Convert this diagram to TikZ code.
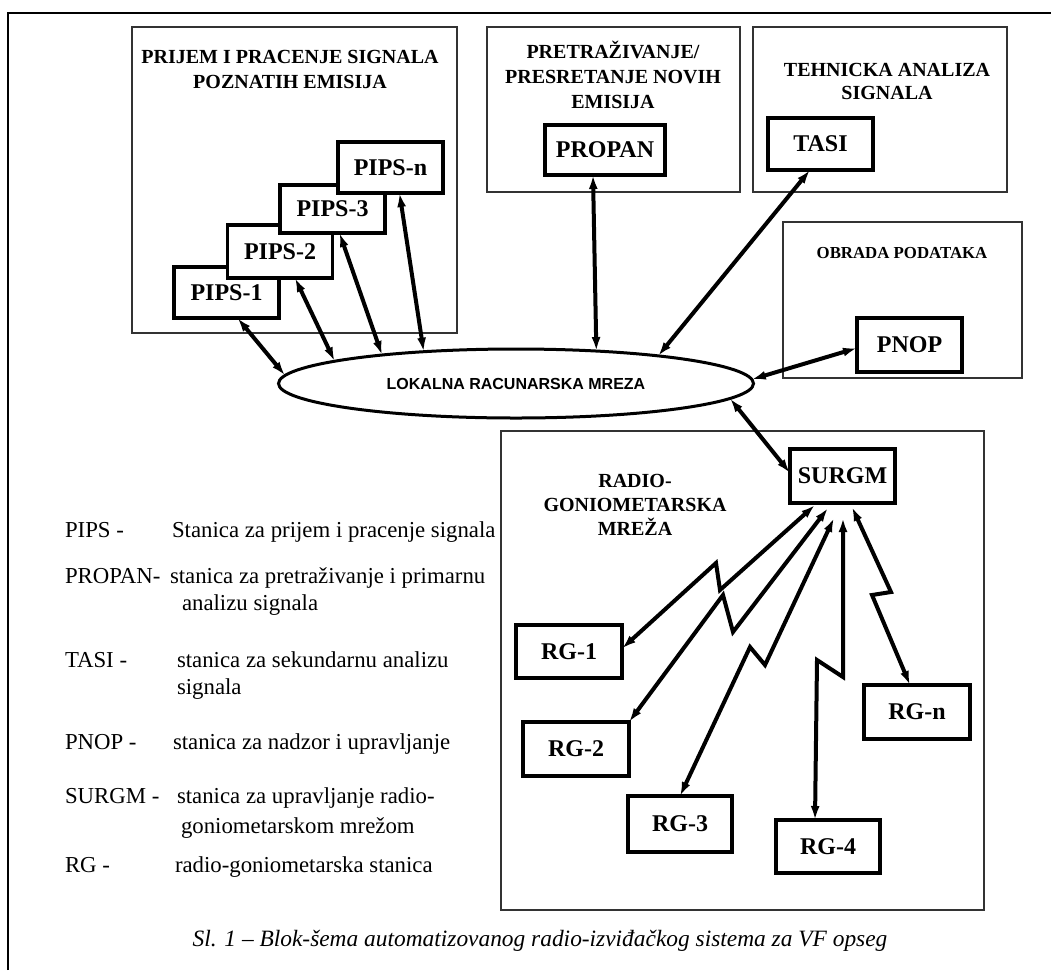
\documentclass[tikz,border=0pt]{standalone}
\usepackage{fontspec}
\setmainfont{Liberation Serif}
\newfontfamily\arialf{Liberation Sans}
\usetikzlibrary{arrows.meta,calc,shapes.geometric}
\begin{document}
\begin{tikzpicture}[x=1pt,y=-1pt,
  every node/.style={inner sep=0pt, outer sep=0pt},
  framebox/.style={draw=black!80, line width=1.4pt},
  stn/.style={draw, line width=3.5pt, fill=white, font=\fontsize{24}{28}\selectfont\bfseries, minimum width=105pt, minimum height=52pt},
  ttl/.style={anchor=base, font=\fontsize{20}{25}\selectfont\bfseries},
  lg/.style={anchor=base west, font=\fontsize{22.8}{27}\selectfont},
  biarrow/.style={line width=4pt, arrows={Latex[length=14pt,width=9pt]-Latex[length=14pt,width=9pt]}},
]
\useasboundingbox (0,0) rectangle (1051,970);
\coordinate (fr1) at (8,970); \coordinate (fr2) at (8,13); \coordinate (fr3) at (1051,13);
\draw[line width=1.2pt] (fr1) -- (fr2) -- (fr3);

% containers
\draw[framebox] (132,27) rectangle (457,333);
\node[ttl] (tA1) at (290,63.5) {PRIJEM I PRACENJE SIGNALA};
\node[ttl] (tA2) at (290,88.5) {POZNATIH EMISIJA};

\draw[framebox] (487,27) rectangle (740,192);
\node[ttl] (tB1) at (613,58.5) {PRETRAŽIVANJE/};
\node[ttl] (tB2) at (613,83.5) {PRESRETANJE NOVIH};
\node[ttl] (tB3) at (613,108.5) {EMISIJA};

\draw[framebox] (753,27) rectangle (1007,192);
\node[ttl] (tC1) at (887,76.5) {TEHNICKA ANALIZA};
\node[ttl] (tC2) at (887,99.5) {SIGNALA};

\draw[framebox] (783,222) rectangle (1022,378);
\node[ttl, font=\fontsize{16.8}{20}\selectfont\bfseries] (tD) at (902,258) {OBRADA PODATAKA};

\draw[framebox] (501,431) rectangle (984,910);
\node[ttl] (tE1) at (635,487.5) {RADIO-};
\node[ttl] (tE2) at (635,511.5) {GONIOMETARSKA};
\node[ttl] (tE3) at (635,535.5) {MREŽA};

% stations
\node[stn, minimum height=51pt] (pips1) at (226.5,292.5) {PIPS-1};
\node[stn, minimum height=53pt] (pips2) at (280,251.5) {PIPS-2};
\node[stn, minimum height=48pt] (pips3) at (332.5,209) {PIPS-3};
\node[stn, minimum height=51pt] (pipsn) at (390.5,167.5) {PIPS-n};
\node[stn, minimum width=120pt, minimum height=50pt] (propan) at (605,150) {PROPAN};
\node[stn] (tasi) at (820.5,144) {TASI};
\node[stn, minimum height=54pt] (pnop) at (909.5,345) {PNOP};
\node[stn, minimum height=54pt] (surgm) at (842.5,476) {SURGM};
\node[stn, minimum width=106pt, minimum height=53pt] (rg1) at (569,651.5) {RG-1};
\node[stn, minimum width=106pt, minimum height=54pt] (rg2) at (576,749) {RG-2};
\node[stn, minimum width=104pt, minimum height=56pt] (rg3) at (680,824) {RG-3};
\node[stn, minimum width=104pt, minimum height=53pt] (rg4) at (828,846.5) {RG-4};
\node[stn, minimum width=106pt, minimum height=54pt] (rgn) at (917,712) {RG-n};

% LAN
\node[ellipse, draw, line width=3pt, fill=white, minimum width=475pt, minimum height=69pt,
      font=\arialf\fontsize{16}{18}\selectfont\bfseries] (lan) at (516,383.5) {LOKALNA RACUNARSKA MREZA};

% connectors to LAN
\draw[biarrow] ($(pips1.south)+(11,0)$) -- (lan.178.6);
\draw[biarrow] ($(pips2.south)+(15,0)$) -- (lan.173);
\draw[biarrow] ($(pips3.south)+(7,0)$) -- (lan.168.7);
\draw[biarrow] ($(pipsn.south)+(9,0)$) -- (lan.161.8);
\draw[biarrow] ($(propan.south)+(-12,0)$) -- (lan.22.7);
\draw[biarrow] ($(tasi.south)+(-10.5,0)$) -- (lan.11.5);
\draw[biarrow] (lan.1) -- ($(pnop.west)+(0,3)$);
\draw[biarrow] (lan.-4.3) -- ($(surgm.west)+(0,-3)$);

% radio links
\coordinate (z1a) at (720,590); \coordinate (z1b) at (716,563);
\coordinate (z2a) at (733,632); \coordinate (z2b) at (723,595);
\coordinate (z3a) at (765,665); \coordinate (z3b) at (750,647);
\coordinate (z4a) at (843,677); \coordinate (z4b) at (817,660);
\coordinate (zna) at (891,592); \coordinate (znb) at (872,595);
\draw[biarrow] ($(surgm.south)+(-27.5,2)$) -- (z1a) -- (z1b) -- ($(rg1.east)+(0,-3)$);
\draw[biarrow] ($(surgm.south)+(-14.5,5)$) -- (z2a) -- (z2b) -- (rg2.north east);
\draw[biarrow] ($(surgm.south)+(-8.5,15)$) -- (z3a) -- (z3b) -- (rg3.north);
\draw[biarrow] ($(surgm.south)+(0.5,15)$) -- (z4a) -- (z4b) -- ($(rg4.north)+(-13,0)$);
\draw[biarrow] ($(surgm.south)+(9.5,4)$) -- (zna) -- (znb) -- ($(rgn.north)+(-7,0)$);

% legend
\node[lg] (lPIPS) at (65,537) {PIPS -};
\node[lg] (dPIPS) at (172,537) {Stanica za prijem i pracenje signala};
\node[lg] (lPROPAN) at (65,583) {PROPAN-};
\node[lg] (dPROPAN) at (170,583) {stanica za pretraživanje i primarnu};
\node[lg] (dPROPAN2) at (182,610) {analizu signala};
\node[lg] (lTASI) at (65,667) {TASI -};
\node[lg] (dTASI) at (177,667) {stanica za sekundarnu analizu};
\node[lg] (dTASI2) at (177,694) {signala};
\node[lg] (lPNOP) at (65,749) {PNOP -};
\node[lg] (dPNOP) at (173,749) {stanica za nadzor i upravljanje};
\node[lg] (lSURGM) at (65,803) {SURGM -};
\node[lg] (dSURGM) at (177,803) {stanica za upravljanje radio-};
\node[lg] (dSURGM2) at (181,833) {goniometarskom mrežom};
\node[lg] (lRG) at (65,872) {RG -};
\node[lg] (dRG) at (175,872) {radio-goniometarska stanica};

% caption
\node[anchor=base, font=\fontsize{23.4}{28}\selectfont\itshape] (cap) at (540,946) {Sl. 1 – Blok-šema automatizovanog radio-izviđačkog sistema za VF opseg};
\end{tikzpicture}
\end{document}
